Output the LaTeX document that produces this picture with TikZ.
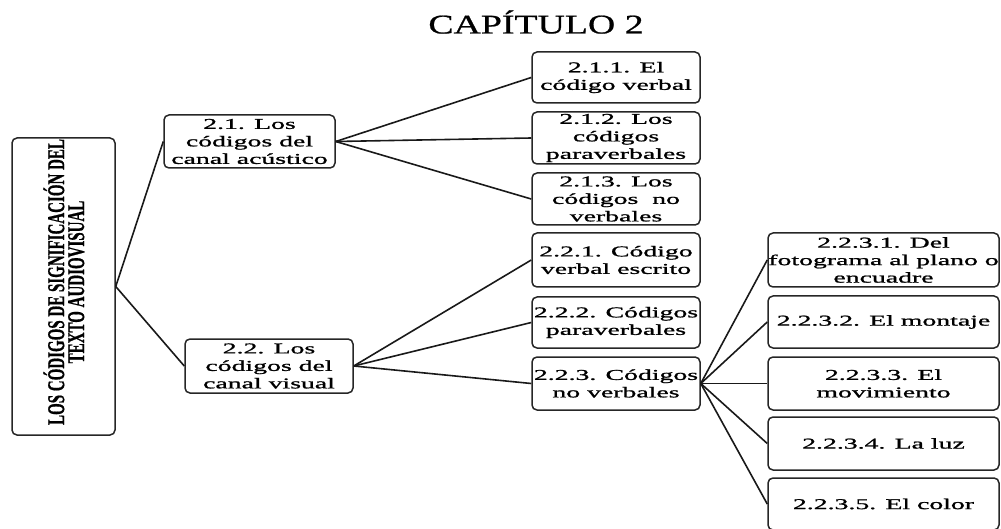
\documentclass[tikz,border=0pt]{standalone}
\usepackage{fontspec}
\setmainfont{Liberation Serif}
\newfontfamily\boxfont[FakeStretch=1.85,FakeBold=1.2]{Liberation Serif}
\newfontfamily\titlefont[FakeStretch=1.4,FakeBold=0.8]{Liberation Serif}
\newfontfamily\rootfont[FakeBold=1]{Liberation Serif}
\usepackage{graphicx}
\tikzset{
  box/.style={draw=black!85, line width=1.5pt, rounded corners=5pt, inner sep=0pt,
    align=center, font=\boxfont\fontsize{15}{17.5}\selectfont},
  conn/.style={draw=black!90, line width=1.6pt},
}
\begin{document}
\begin{tikzpicture}[x=1pt,y=-1pt]
\useasboundingbox (0,0) rectangle (1001,529);
\node[font=\titlefont\fontsize{27}{30}\selectfont, inner sep=0pt] (title) at (536,22) {CAPÍTULO 2};
% root
\node[box, minimum width=103pt, minimum height=297pt] (root) at (63.5,286.5) {};
\node[rotate=90, inner sep=0pt] (roottxt) at (67,282) {\scalebox{1}[1.6]{\rootfont\fontsize{15}{13.5}\selectfont\bfseries\begin{tabular}{@{}c@{}}LOS CÓDIGOS DE SIGNIFICACIÓN DEL\\[-1.5pt] TEXTO AUDIOVISUAL\end{tabular}}};
% level 1
\node[box, minimum width=171pt, minimum height=53pt] (n21) at (249.5,141.5) {2.1. Los\\códigos del\\canal acústico};
\node[box, minimum width=168pt, minimum height=54pt] (n22) at (269,366) {2.2. Los\\códigos del\\canal visual};
% level 2
\node[box, minimum width=168pt, minimum height=51pt] (n211) at (616,77.5) {2.1.1. El\\código verbal};
\node[box, minimum width=168pt, minimum height=52pt] (n212) at (616,138) {2.1.2. Los\\códigos\\paraverbales};
\node[box, minimum width=168pt, minimum height=52pt] (n213) at (616,199) {2.1.3. Los\\códigos\ \ no\\verbales};
\node[box, minimum width=168pt, minimum height=54pt] (n221) at (616,260) {2.2.1. Código\\verbal escrito};
\node[box, minimum width=168pt, minimum height=51pt] (n222) at (616,322.5) {2.2.2. Códigos\\paraverbales};
\node[box, minimum width=168pt, minimum height=53pt] (n223) at (616,383.5) {2.2.3. Códigos\\no verbales};
% level 3
\node[box, minimum width=231pt, minimum height=54pt] (n2231) at (883.5,260) {2.2.3.1. Del\\fotograma al plano o\\encuadre};
\node[box, minimum width=231pt, minimum height=52pt] (n2232) at (883.5,322) {2.2.3.2. El montaje};
\node[box, minimum width=231pt, minimum height=53pt] (n2233) at (883.5,383.5) {2.2.3.3. El\\movimiento};
\node[box, minimum width=231pt, minimum height=53pt] (n2234) at (883.5,443.5) {2.2.3.4. La luz};
\node[box, minimum width=231pt, minimum height=52pt] (n2235) at (883.5,504) {2.2.3.5. El color};
% connectors
\draw[conn] (root.east) -- (n21.west);
\draw[conn] (root.east) -- (n22.west);
\draw[conn] (n21.east) -- (n211.west);
\draw[conn] (n21.east) -- (n212.west);
\draw[conn] (n21.east) -- (n213.west);
\draw[conn] (n22.east) -- (n221.west);
\draw[conn] (n22.east) -- (n222.west);
\draw[conn] (n22.east) -- (n223.west);
\draw[conn] (n223.east) -- (n2231.west);
\draw[conn] (n223.east) -- (n2232.west);
\draw[conn] (n223.east) -- (n2233.west);
\draw[conn] (n223.east) -- (n2234.west);
\draw[conn] (n223.east) -- (n2235.west);
\end{tikzpicture}
\end{document}
